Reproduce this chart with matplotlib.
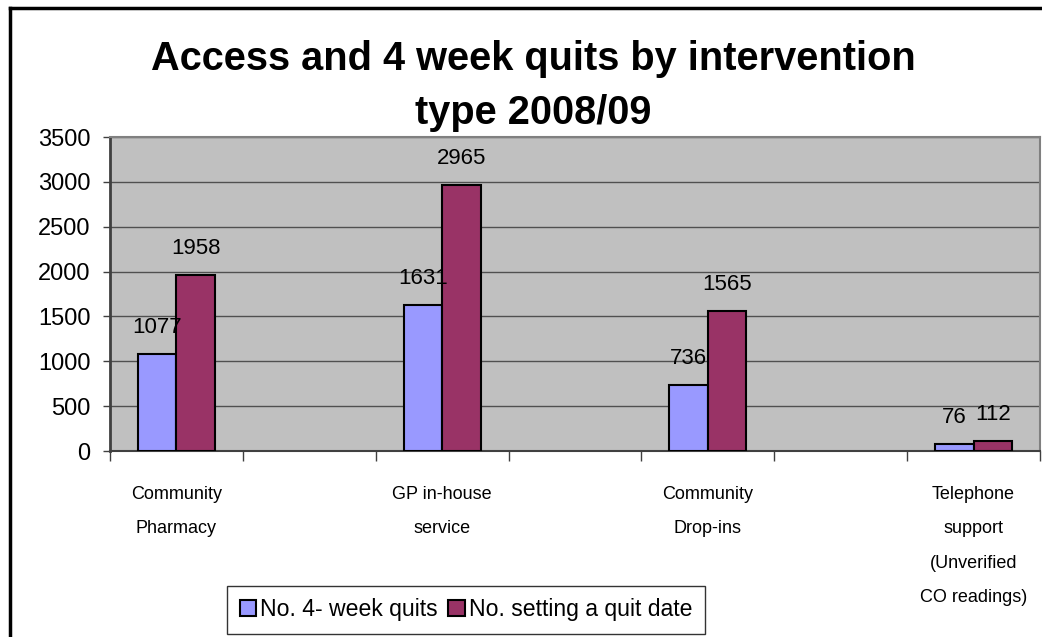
import numpy as np
import matplotlib.pyplot as plt
from matplotlib.lines import Line2D

plt.rcParams['font.family'] = ['Liberation Sans', 'DejaVu Sans']

# 分类（空字符串为组间的空白类目）
categories = ['Community\nPharmacy', '', 'GP in-house\nservice', '',
              'Community\nDrop-ins', '', 'Telephone\nsupport\n(Unverified\nCO readings)']
group_pos = [0, 2, 4, 6]
quits = [1077, 1631, 736, 76]
set_date = [1958, 2965, 1565, 112]
series_names = ['No. 4- week quits', 'No. setting a quit date']
yticks = [0, 500, 1000, 1500, 2000, 2500, 3000, 3500]

c_quit = '#9999FF'
c_date = '#993366'
bar_w = 0.29

fig = plt.figure(figsize=(10.42, 6.37), dpi=100)
ax = fig.add_axes([110 / 1042, 1 - 451 / 637, 930 / 1042, 314 / 637])
ax.set_facecolor('#C0C0C0')

x = np.array(group_pos) + 0.5
b1 = ax.bar(x - bar_w / 2, quits, bar_w, color=c_quit, edgecolor='black',
            linewidth=1.5, label=series_names[0], zorder=3)
b2 = ax.bar(x + bar_w / 2, set_date, bar_w, color=c_date, edgecolor='black',
            linewidth=1.5, label=series_names[1], zorder=3)

# 数据标签
for bars, vals in ((b1, quits), (b2, set_date)):
    for r, v in zip(bars, vals):
        ax.annotate(str(v), (r.get_x() + r.get_width() / 2, v),
                    xytext=(0, 19), textcoords='offset points',
                    ha='center', va='center', fontsize=16, zorder=5)

ax.set_xlim(0, 7)
ax.set_ylim(0, 3500)
ax.set_yticks(yticks)
ax.tick_params(axis='y', labelsize=17, length=5, width=1, color='#404040', pad=9)
ax.yaxis.grid(True, color='#505050', linewidth=1, zorder=1)

ax.set_xticks(range(8))
ax.set_xticklabels([])
ax.set_xticks(np.arange(7) + 0.5, minor=True)
ax.set_xticklabels(categories, minor=True, fontsize=13, linespacing=2.35, va='top')
ax.tick_params(axis='x', which='major', length=7, width=1, color='#404040')
ax.tick_params(axis='x', which='minor', length=0, pad=25)

for s in ('top', 'right'):
    ax.spines[s].set_color('#808080')
    ax.spines[s].set_linewidth(1.5)
ax.spines['left'].set_color('#404040')
ax.spines['left'].set_linewidth(2)
ax.spines['bottom'].set_color('#404040')
ax.spines['bottom'].set_linewidth(1.5)

fig.text(0.512, 1 - 86 / 637, 'Access and 4 week quits by intervention\ntype 2008/09',
         ha='center', va='center', fontsize=28.6, fontweight='bold', linespacing=1.5)

leg = fig.legend(handles=[b1, b2], labels=series_names, loc='lower left',
                 bbox_to_anchor=(227 / 1042, 3 / 637), ncol=2, fontsize=16.6,
                 frameon=True, fancybox=False, handlelength=0.7, handleheight=0.7,
                 handletextpad=0.2, columnspacing=0.45, borderpad=0.55,
                 borderaxespad=0)
leg.get_frame().set_edgecolor('black')
leg.get_frame().set_linewidth(1)

# 外框线（左、上）
fig.add_artist(Line2D([10 / 1042, 10 / 1042], [0, 1 - 8 / 637], color='black',
                      linewidth=2.5, transform=fig.transFigure))
fig.add_artist(Line2D([10 / 1042, 1], [1 - 8 / 637, 1 - 8 / 637], color='black',
                      linewidth=2.5, transform=fig.transFigure))

fig.savefig('out.png', dpi=100)
